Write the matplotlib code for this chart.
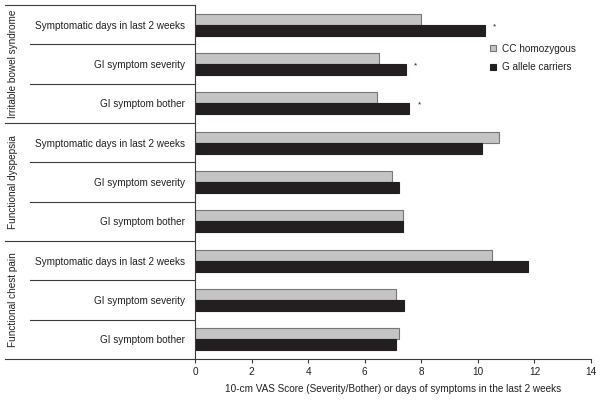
import matplotlib
matplotlib.use("Agg")
import matplotlib.pyplot as plt
import matplotlib.transforms as mtransforms
from matplotlib.patches import Patch
import numpy as np

plt.rcParams['font.family'] = ['Liberation Sans', 'DejaVu Sans']

groups = ["Irritable bowel syndrome", "Functional dyspepsia", "Functional chest pain"]
measures = ["Symptomatic days in last 2 weeks", "GI symptom severity", "GI symptom bother"]
series_names = ["CC homozygous", "G allele carriers"]
cc_values = [8.0, 6.5, 6.45, 10.73, 6.95, 7.36, 10.49, 7.10, 7.20]
g_values = [10.25, 7.46, 7.57, 10.13, 7.22, 7.36, 11.79, 7.40, 7.09]
significant = [True, True, True, False, False, False, False, False, False]
xticks = [0, 2, 4, 6, 8, 10, 12, 14]
xlabel = "10-cm VAS Score (Severity/Bother) or days of symptoms in the last 2 weeks"

text_color = "#231f20"
line_color = "#3a3a3a"
gray_fill = "#c4c4c4"
gray_edge = "#777777"
black_fill = "#231f20"

fig = plt.figure(figsize=(6.01, 4.00), dpi=100)
ax = fig.add_axes([195/601, 1-359/400, (591-195)/601, (359-5)/400])

labels = [m for g in groups for m in measures]
n = len(labels)
y = np.arange(n)
h = 0.28
ax.barh(y - h/2, cc_values, height=h, color=gray_fill, edgecolor=gray_edge, linewidth=0.8)
ax.barh(y + h/2, g_values, height=h, color=black_fill, edgecolor=black_fill, linewidth=0.8)

for i, sig in enumerate(significant):
    if sig:
        ax.text(max(cc_values[i], g_values[i]) + 0.35, i + 0.05, "*", fontsize=6,
                ha='center', va='center', color=text_color)

ax.set_ylim(n - 0.5, -0.5)
ax.set_xlim(0, 14)
ax.set_xticks(xticks)
ax.set_xticklabels([str(t) for t in xticks], fontsize=7.2, color=text_color)
ax.set_yticks(y)
ax.set_yticklabels(labels, fontsize=7.2, color=text_color)
ax.tick_params(axis='y', length=0, pad=7)
ax.tick_params(axis='x', length=3, width=0.8, pad=3, color=line_color)
ax.set_xlabel(xlabel, fontsize=7.2, color=text_color, labelpad=5)

for s in ['top', 'right']:
    ax.spines[s].set_visible(False)
for s in ['left', 'bottom']:
    ax.spines[s].set_color(line_color)
    ax.spines[s].set_linewidth(0.8)

trans = mtransforms.blended_transform_factory(ax.transAxes, ax.transData)
x_group = (5 - 195) / 396
x_row = (30 - 195) / 396
for k in range(n + 1):
    yb = k - 0.5
    x0 = x_group if k % 3 == 0 else x_row
    ax.plot([x0, 0], [yb, yb], transform=trans, color=line_color, lw=0.8, clip_on=False)

x_glabel = (13 - 195) / 396
for gi, g in enumerate(groups):
    ax.text(x_glabel, gi * 3 + 1, g, transform=trans, rotation=90, fontsize=7.2,
            ha='center', va='center', color=text_color)

handles = [Patch(facecolor=gray_fill, edgecolor=gray_edge, linewidth=0.8),
           Patch(facecolor=black_fill, edgecolor=black_fill, linewidth=0.8)]
leg = ax.legend(handles, series_names, loc='upper left',
                bbox_to_anchor=(490/601, 1-44/400), bbox_transform=fig.transFigure,
                frameon=False, fontsize=7.2, handlelength=0.55, handleheight=0.55,
                handletextpad=0.6, labelspacing=0.85, borderaxespad=0, borderpad=0)
for t in leg.get_texts():
    t.set_color(text_color)

fig.savefig("out.png", dpi=100)
